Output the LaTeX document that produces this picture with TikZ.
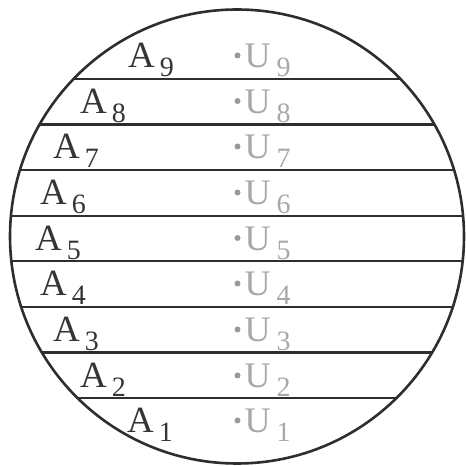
\documentclass[tikz,border=0pt]{standalone}
\usepackage{fontspec}
\setmainfont{Liberation Serif}
\definecolor{adark}{HTML}{353535}
\definecolor{ulight}{HTML}{A8A8A8}
\definecolor{bulletgray}{HTML}{999999}
\definecolor{linedark}{HTML}{2E2E2E}
\begin{document}
\begin{tikzpicture}[x=1pt,y=1pt,
  alabel/.style={anchor=base west,inner sep=0pt,text=adark,font=\fontsize{37}{40}\selectfont},
  ulabel/.style={anchor=base west,inner sep=0pt,text=ulight,font=\fontsize{36}{40}\selectfont},
  divider/.style={line width=2.6pt,draw=linedark},
  rim/.style={line width=2.6pt,draw=linedark}]
\useasboundingbox (0,0) rectangle (466,466);
\coordinate (c) at (237,229.5);
\begin{scope}
  \clip (c) circle (227);
  \foreach \yy in {79,124.5,170,216,261,307,352.5,398} {
    \draw[divider] (0,466-\yy) -- (466,466-\yy);
  }
\end{scope}
\draw[rim] (c) circle (227);
\foreach \k/\ax/\by in {9/128/68,8/80/113.5,7/53/159,6/40/205,5/35/250.5,4/40/296,3/53/342,2/80/388,1/127/433} {
  \node[alabel] (A\k) at (\ax,466-\by) {A\hspace{5pt}\raisebox{-9pt}{\fontsize{28}{30}\selectfont\k}};
  \fill[bulletgray] (237.5,466-\by+12.5) circle (3);
  \node[ulabel] (U\k) at (244.5,466-\by) {U\hspace{6pt}\raisebox{-9pt}{\fontsize{28}{30}\selectfont\k}};
}
\end{tikzpicture}
\end{document}
